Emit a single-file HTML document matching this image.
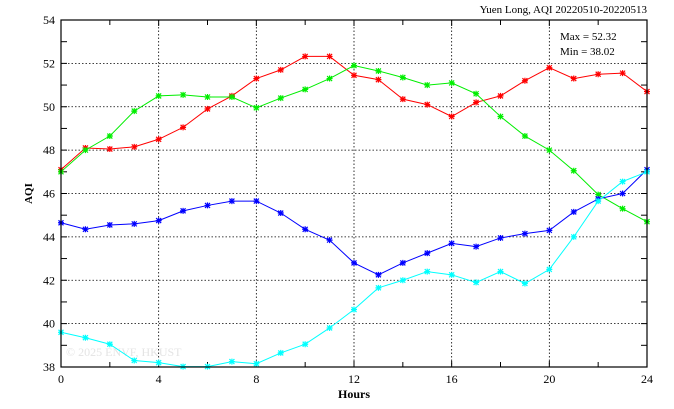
<!DOCTYPE html>
<html><head><meta charset="utf-8"><style>body{margin:0;background:#fff}svg{display:block}text{font-family:"Liberation Serif",serif;font-size:12px;fill:#000}</style></head>
<body>
<svg id="s" width="674" height="409" xmlns="http://www.w3.org/2000/svg"></svg>
<script>
const X0=61,X1=647,Y0=367,Y1=20;
const fx=h=>X0+(X1-X0)*h/24, fy=v=>Y0-(Y0-Y1)*(v-38)/16;
let o='';
o+='<text x="647" y="13" text-anchor="end" style="font-size:11px">Yuen Long, AQI 20220510-20220513</text>';
for(let h=4;h<24;h+=4)o+=`<line x1="${fx(h)}" y1="${Y1}" x2="${fx(h)}" y2="${Y0}" stroke="#000" stroke-width="0.8" stroke-dasharray="1.5,2"/>`;
for(let v=40;v<54;v+=2)o+=`<line x1="${X0}" y1="${fy(v)}" x2="${X1}" y2="${fy(v)}" stroke="#000" stroke-width="0.8" stroke-dasharray="1.5,2"/>`;
for(let h=0;h<=24;h+=2){let L=h%4==0?6:5;o+=`<line x1="${fx(h)}" y1="${Y0}" x2="${fx(h)}" y2="${Y0-L}" stroke="#000"/><line x1="${fx(h)}" y1="${Y1}" x2="${fx(h)}" y2="${Y1+L}" stroke="#000"/>`;if(h%4==0)o+=`<text x="${fx(h)}" y="${Y0+16}" text-anchor="middle">${h}</text>`;}
for(let v=38;v<=54;v++){o+=`<line x1="${X0}" y1="${fy(v)}" x2="${X0+6}" y2="${fy(v)}" stroke="#000"/><line x1="${X1}" y1="${fy(v)}" x2="${X1-6}" y2="${fy(v)}" stroke="#000"/>`;if(v%2==0)o+=`<text x="${X0-6}" y="${fy(v)+4}" text-anchor="end">${v}</text>`;}
o+=`<text x="${(X0+X1)/2}" y="398" text-anchor="middle" style="font-weight:bold">Hours</text>`;
o+=`<text transform="translate(32,${(Y0+Y1)/2}) rotate(-90)" text-anchor="middle" style="font-weight:bold;font-size:11px">AQI</text>`;
o+='<text x="560" y="40" style="font-size:11px">Max = 52.32</text><text x="560" y="55" style="font-size:11px">Min = 38.02</text>';
o+='<text x="66" y="356" style="font-size:12px;fill:#e4e4e4">© 2025  ENVF, HKUST</text>';
const D={
'#ff0000':[47.1,48.1,48.05,48.15,48.5,49.05,49.9,50.5,51.3,51.7,52.32,52.32,51.45,51.25,50.35,50.1,49.55,50.2,50.5,51.2,51.8,51.3,51.5,51.55,50.7],
'#00ee00':[47.0,48.0,48.65,49.8,50.5,50.55,50.45,50.45,49.95,50.4,50.8,51.3,51.9,51.65,51.35,51.0,51.1,50.6,49.55,48.65,48.0,47.05,45.95,45.3,44.7],
'#0000ff':[44.65,44.35,44.55,44.6,44.75,45.2,45.45,45.65,45.65,45.1,44.35,43.85,42.8,42.25,42.8,43.25,43.7,43.55,43.95,44.15,44.3,45.15,45.75,46.0,47.1],
'#00ffff':[39.6,39.35,39.05,38.3,38.2,38.02,38.02,38.25,38.15,38.65,39.05,39.8,40.65,41.65,42.0,42.4,42.25,41.9,42.4,41.85,42.5,44.0,45.65,46.55,47.0]};
for(const c in D){const p=D[c].map((v,i)=>[fx(i),fy(v)]);o+=`<polyline fill="none" stroke="${c}" stroke-width="1" points="${p.map(q=>q.join(',')).join(' ')}"/>`;
for(const [x,y] of p)o+=`<path d="M${x-3} ${y}h6M${x} ${y-3}v6M${x-2.5} ${y-2.5}l5 5M${x-2.5} ${y+2.5}l5 -5" stroke="${c}" stroke-width="1.2"/>`;}
o+=`<rect x="${X0}" y="${Y1}" width="${X1-X0}" height="${Y0-Y1}" fill="none" stroke="#000" stroke-width="1.2"/>`;
document.getElementById('s').innerHTML=o;
</script>
</body></html>
